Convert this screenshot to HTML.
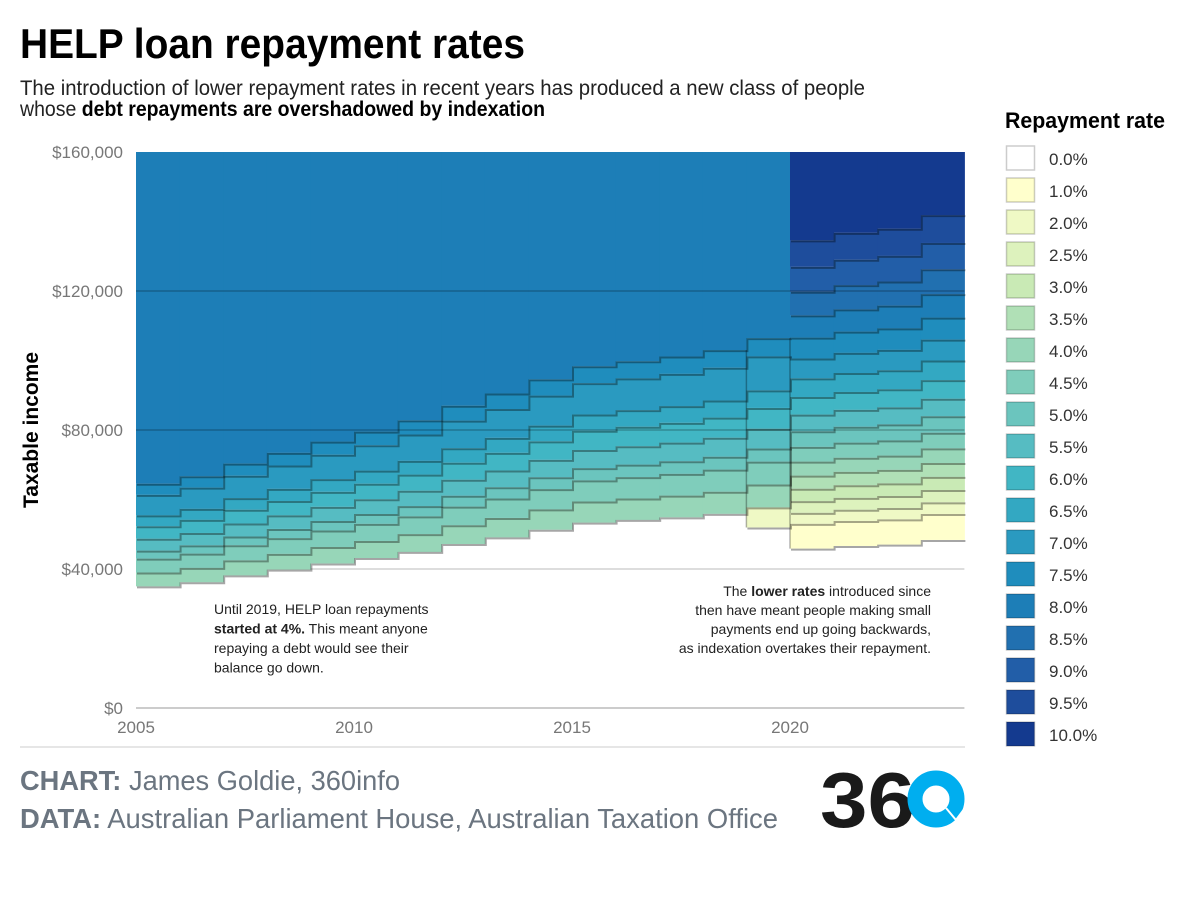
<!DOCTYPE html>
<html><head><meta charset="utf-8"><style>
html,body{margin:0;padding:0;background:#fff;}
svg{display:block;font-family:"Liberation Sans Narrow","Liberation Sans",sans-serif;}
</style></head><body>
<svg id="chart" width="1200" height="900" viewBox="0 0 1200 900" xmlns="http://www.w3.org/2000/svg">
<text x="20" y="58" font-size="42" font-weight="bold" textLength="505" lengthAdjust="spacingAndGlyphs">HELP loan repayment rates</text>
<text x="20" y="95" font-size="21" fill="#222" textLength="845" lengthAdjust="spacingAndGlyphs">The introduction of lower repayment rates in recent years has produced a new class of people</text>
<text x="20" y="116" font-size="21" fill="#222" textLength="525" lengthAdjust="spacingAndGlyphs">whose <tspan font-weight="bold" fill="#000">debt repayments are overshadowed by indexation</tspan></text>
<g id="plot"></g>
<g id="axes"></g>
<text transform="translate(38,430) rotate(-90)" text-anchor="middle" font-size="21" font-weight="bold">Taxable income</text>
<text x="214" y="614" font-size="14" fill="#222"><tspan x="214">Until 2019, HELP loan repayments</tspan><tspan x="214" dy="19.5"><tspan font-weight="bold">started at 4%.</tspan> This meant anyone</tspan><tspan x="214" dy="19.5">repaying a debt would see their</tspan><tspan x="214" dy="19.5">balance go down.</tspan></text>
<text x="931" y="596" font-size="14" fill="#222" text-anchor="end"><tspan x="931">The <tspan font-weight="bold">lower rates</tspan> introduced since</tspan><tspan x="931" dy="19">then have meant people making small</tspan><tspan x="931" dy="19">payments end up going backwards,</tspan><tspan x="931" dy="19">as indexation overtakes their repayment.</tspan></text>
<line x1="20" y1="747" x2="965" y2="747" stroke="#ddd" stroke-width="1.5"/>
<text x="20" y="790" font-size="28" fill="#6b7580" textLength="380" lengthAdjust="spacingAndGlyphs"><tspan font-weight="bold">CHART:</tspan> James Goldie, 360info</text>
<text x="20" y="828" font-size="28" fill="#6b7580" textLength="758" lengthAdjust="spacingAndGlyphs"><tspan font-weight="bold">DATA:</tspan> Australian Parliament House, Australian Taxation Office</text>
<g>
<text x="820" y="827" font-size="78" font-weight="bold" fill="#1a1a1a" textLength="95" lengthAdjust="spacingAndGlyphs">36</text>
<circle cx="936" cy="799" r="21" fill="none" stroke="#00aeef" stroke-width="15"/>
<path d="M946 808 l10 12 l9 -12" fill="none" stroke="#fff" stroke-width="2"/>
</g>
<text x="1005" y="128" font-size="22" font-weight="bold" textLength="160" lengthAdjust="spacingAndGlyphs">Repayment rate</text>
<g id="legend"></g>
</svg>
<script>
const rates = [0,1,2,2.5,3,3.5,4,4.5,5,5.5,6,6.5,7,7.5,8,8.5,9,9.5,10];
const colors = ["#ffffff","#ffffcc","#eff9c5","#ddf2bd","#c9eab5","#b0e0b6","#97d6b8","#7fcdbb","#6bc5be","#56bcc2","#41b6c4","#33a8c2","#2a9ac0","#1f8dbd","#1d7eb7","#2170b0","#225ea8","#1e4d9c","#143a8f"];
const years = [2005,2006,2007,2008,2009,2010,2011,2012,2013,2014,2015,2016,2017,2018,2019,2020,2021,2022,2023];
const oldRates = [4,4.5,5,5.5,6,6.5,7,7.5,8];
const rates2019 = [2,4,4.5,5,5.5,6,6.5,7,7.5,8];
const newRates = [1,2,2.5,3,3.5,4,4.5,5,5.5,6,6.5,7,7.5,8,8.5,9,9.5,10];
const t2005=[35000,38988,42976,45286,48718,52318,55421,61337,64519];
const t2006=[36184,40306,44428,46816,50364,54121,57297,63409,66700];
const t2007=[38149,42494,46838,49357,53097,57057,60407,66849,70320];
const t2008=[39825,44360,48896,51525,55429,59564,63060,69786,73409];
const t2009=[41595,46333,51070,53816,57893,62212,65863,72888,76671];
const t2010=[43151,48066,52980,55830,60059,64539,68327,75614,79539];
const t2011=[44912,50028,55143,58110,62511,67173,71116,78700,82787];
const t2012=[47196,52572,57947,61064,65690,70589,74732,82702,86996];
const t2013=[49096,54688,60279,63522,68334,73430,77740,86031,90498];
const t2014=[51309,57153,62997,66385,71414,76739,81243,89908,94578];
const t2015=[53345,59421,65497,69019,74247,79784,84467,93476,98330];
const t2016=[54126,60292,66456,70031,75340,80953,85704,94846,99773];
const t2017=[54869,61119,67368,70991,76371,82064,86881,96146,101142];
const t2018=[55874,62239,68603,72293,77770,83570,88474,97912,103000];
const t2019=[51957,57730,64307,70882,74694,80353,86345,91403,101171,106436];
const t2020=[45881,52974,56152,59522,63093,66878,70891,75145,79653,84433,89499,94869,100561,106594,112990,119770,126956,134573];
const t2021=[46620,53827,57056,60480,64109,67955,72032,76355,80936,85793,90940,96397,102180,108310,114708,121699,129000,136740];
const t2022=[47014,54283,57539,60992,64652,68530,72642,77001,81621,86518,91709,97212,103045,109227,115781,122728,130092,137898];
const t2023=[48361,55837,59187,62739,66503,70493,74723,79207,83959,88997,94337,99997,105997,112356,119098,126244,133819,141848];
const thresholds=[t2005,t2006,t2007,t2008,t2009,t2010,t2011,t2012,t2013,t2014,t2015,t2016,t2017,t2018,t2019,t2020,t2021,t2022,t2023];
const yearRates=[oldRates,oldRates,oldRates,oldRates,oldRates,oldRates,oldRates,oldRates,oldRates,oldRates,oldRates,oldRates,oldRates,oldRates,rates2019,newRates,newRates,newRates,newRates];
const yTicks=[0,40000,80000,120000,160000];
const yTickLabels=["$0","$40,000","$80,000","$120,000","$160,000"];
const xTicks=[2005,2010,2015,2020];

const NS="http://www.w3.org/2000/svg";
const X0=136,X1=964.4,XMIN=2005,XMAX=2024,Y0=708,Y1=152,YMAX=160000;
const x=v=>X0+(v-XMIN)/(XMAX-XMIN)*(X1-X0);
const y=v=>Y0-v/YMAX*(Y0-Y1);
function mk(tag,attrs,parent){const e=document.createElementNS(NS,tag);for(const k in attrs)e.setAttribute(k,attrs[k]);parent.appendChild(e);return e;}
const plot=document.getElementById('plot'),axes=document.getElementById('axes'),legend=document.getElementById('legend');
const col=r=>colors[rates.indexOf(r)];

// light 40k gridline behind
const g40=mk('line',{x1:X0,x2:X1,y1:y(40000),y2:y(40000),stroke:'#ddd','stroke-width':2},plot);



// cells
years.forEach((yr,i)=>{
  const th=thresholds[i],rs=yearRates[i];
  rs.forEach((r,k)=>{
    const lo=th[k],hi=k+1<th.length?th[k+1]:YMAX;
    const rc=mk('rect',{x:x(yr),width:x(yr+1)-x(yr)+0.5,y:y(hi),height:y(lo)-y(hi),fill:col(r)},plot);
    
    
  });
});
// step edges per rate
rates.forEach(r=>{
  if(r===0)return;
  let d='',prev=null;
  years.forEach((yr,i)=>{
    const k=yearRates[i].indexOf(r);
    if(k<0){prev=null;return;}
    const yy=y(thresholds[i][k]);
    if(prev===null)d+=`M${x(yr)},${yy}`;else d+=`L${x(yr)},${prev}L${x(yr)},${yy}`;
    d+=`L${x(yr+1)},${yy}`;prev=yy;
  });
  if(!d)return;
  const sh=mk('path',{d:d,fill:'none',stroke:'rgba(0,0,0,0.35)','stroke-width':2,transform:'translate(1,1)'},plot);
  
  
});
// vertical edge at 2019/2020 new schedules
[2019,2020].forEach(yr=>{
  const i=years.indexOf(yr);
  const v=mk('line',{x1:x(yr),x2:x(yr),y1:y(thresholds[i][0]),y2:y(thresholds[i-1][thresholds[i-1].length-1]),stroke:'rgba(0,0,0,0.3)','stroke-width':1.5},plot);
  
  
});
// overlaid gridlines
[80000,120000].forEach(t=>{
  const l=mk('line',{x1:X0,x2:X1,y1:y(t),y2:y(t),stroke:'rgba(0,0,0,0.18)','stroke-width':2},plot);
  
  
});
const l0=mk('line',{x1:X0,x2:X1,y1:Y0,y2:Y0,stroke:'#ccc','stroke-width':2},axes);


yTicks.forEach((t,i)=>{
  const tx=mk('text',{x:123,y:y(t)+6,'text-anchor':'end','font-size':17,fill:'#777'},axes);
  tx.textContent=yTickLabels[i];
  
  
});
xTicks.forEach(t=>{
  const tx=mk('text',{x:x(t),y:733,'text-anchor':'middle','font-size':17,fill:'#777'},axes);
  tx.textContent=t;
  
  
});
// legend
rates.forEach((r,i)=>{
  const yy=146+i*32;
  const s=mk('rect',{x:1006.5,y:yy,width:28,height:24,fill:colors[i],stroke:'rgba(0,0,0,0.2)','stroke-width':1.5},legend);
  
  
  const t=mk('text',{x:1049,y:yy+19,'font-size':17,fill:'#333'},legend);
  t.textContent=r.toFixed(1)+'%';
  
  
});
</script>
</body></html>
